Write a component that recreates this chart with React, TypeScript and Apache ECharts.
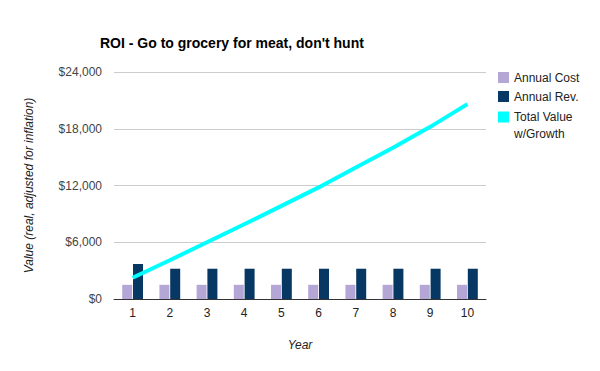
import React, { useEffect, useRef } from "react";
import * as echarts from "echarts";

const years = ["1", "2", "3", "4", "5", "6", "7", "8", "9", "10"];
const annualCost = [1500, 1500, 1500, 1500, 1500, 1500, 1500, 1500, 1500, 1500];
const annualRev = [3700, 3200, 3200, 3200, 3200, 3200, 3200, 3200, 3200, 3200];
const totalValue = [2250, 4100, 6000, 7900, 9850, 11800, 13900, 16000, 18200, 20600];
const seriesNames = ["Annual Cost", "Annual Rev.", "Total Value w/Growth"];

const FONT = "'Liberation Sans', Arial, sans-serif";

export default function App() {
  const ref = useRef<HTMLDivElement>(null);
  useEffect(() => {
    if (!ref.current) return;
    const chart = echarts.init(ref.current, undefined, { renderer: "svg" });
    const legendBase = {
      orient: "vertical",
      left: 498,
      padding: 0,
      itemWidth: 11,
      itemHeight: 11,
      icon: "rect",
    };
    chart.setOption({
      animation: false,
      backgroundColor: "#ffffff",
      textStyle: { fontFamily: FONT },
      title: {
        text: "ROI - Go to grocery for meat, don't hunt",
        left: 100,
        top: 36,
        padding: 0,
        textStyle: { fontFamily: FONT, fontSize: 14, fontWeight: "bold", color: "#000" },
      },
      legend: [
        {
          ...legendBase,
          top: 71.5,
          textStyle: { fontFamily: FONT, fontSize: 12, color: "#222", lineHeight: 11 },
          data: [seriesNames[0]],
        },
        {
          ...legendBase,
          top: 90.5,
          textStyle: { fontFamily: FONT, fontSize: 12, color: "#222", lineHeight: 11 },
          data: [seriesNames[1]],
        },
        {
          ...legendBase,
          top: 91.5,
          formatter: () => " \nTotal Value\nw/Growth",
          textStyle: { fontFamily: FONT, fontSize: 12, color: "#222", lineHeight: 17 },
          data: [seriesNames[2]],
        },
      ],
      grid: { left: 114, right: 114, top: 72, bottom: 72 },
      xAxis: {
        type: "category",
        data: years,
        name: "Year",
        nameLocation: "middle",
        nameGap: 40,
        nameTextStyle: { fontFamily: FONT, fontSize: 12, fontStyle: "italic", color: "#222" },
        axisLine: { lineStyle: { color: "#333", width: 1 } },
        axisTick: { show: false },
        axisLabel: { margin: 8, fontFamily: FONT, fontSize: 12, color: "#222" },
      },
      yAxis: {
        type: "value",
        min: 0,
        max: 24000,
        interval: 6000,
        name: "Value (real, adjusted for inflation)",
        nameLocation: "middle",
        nameGap: 79,
        nameTextStyle: { fontFamily: FONT, fontSize: 12, fontStyle: "italic", color: "#222" },
        axisLine: { show: false },
        axisTick: { show: false },
        splitLine: { lineStyle: { color: "#cccccc", width: 1 } },
        axisLabel: {
          margin: 12,
          fontFamily: FONT,
          fontSize: 12,
          color: "#444",
          formatter: (v: number) => "$" + v.toLocaleString("en-US"),
        },
      },
      series: [
        {
          name: seriesNames[0],
          type: "bar",
          data: annualCost,
          barWidth: 10,
          barGap: "8%",
          itemStyle: { color: "#b4a7d6" },
        },
        {
          name: seriesNames[1],
          type: "bar",
          data: annualRev,
          barWidth: 10,
          barGap: "8%",
          itemStyle: { color: "#073763" },
        },
        {
          name: seriesNames[2],
          type: "line",
          data: totalValue,
          showSymbol: false,
          symbol: "none",
          lineStyle: { color: "#00ffff", width: 4 },
          itemStyle: { color: "#00ffff" },
        },
      ],
    });
    return () => chart.dispose();
  }, []);
  return <div ref={ref} style={{ width: 600, height: 371, margin: -8 }} />;
}
